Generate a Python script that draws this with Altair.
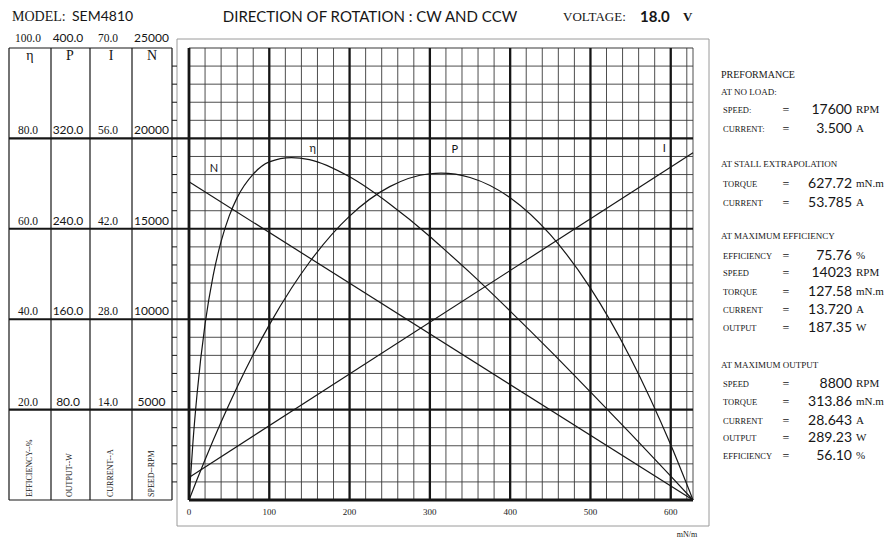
import altair as alt
import pandas as pd

# ---------------- values ----------------
model_label = "MODEL:"
model_name = "SEM4810"
rotation_text = "DIRECTION OF ROTATION : CW AND CCW"
voltage_label = "VOLTAGE:"
voltage_value = "18.0"
voltage_unit = "V"
torque_unit = "mN/m"

# straight characteristics (end points)
line_torque = [0.0, 627.72]      # mN.m
line_speed = [17600.0, 0.0]      # RPM
line_current = [3.5, 53.785]     # A

# curved characteristics
curve_torque = [0, 5, 10, 20, 30, 40, 50, 60, 80, 100, 127.58, 150, 200,
                250, 300, 313.86, 350, 400, 450, 500, 550, 600, 627.72]
curve_eff = [0, 13.0, 23.4, 38.9, 49.6, 57.2, 62.8, 66.9, 72.1, 74.8, 75.76, 75.3, 71.5,
             65.5, 58.3, 56.1, 50.3, 41.8, 33.0, 23.9, 14.7, 5.3, 0]
curve_out = [0, 9.1, 18.1, 35.7, 52.7, 69.0, 84.8, 100.0, 128.7, 155.0, 187.35, 210.4, 251.2,
             277.3, 288.7, 289.23, 285.4, 267.5, 234.8, 187.5, 125.5, 48.8, 0]

# full-scale values of the four stacked scales
eff_full, out_full, cur_full, spd_full = 100.0, 400.0, 70.0, 25000.0
torque_full = 627.72

eff_ticks = [100.0, 80.0, 60.0, 40.0, 20.0]
out_ticks = [400.0, 320.0, 240.0, 160.0, 80.0]
cur_ticks = [70.0, 56.0, 42.0, 28.0, 14.0]
spd_ticks = [25000, 20000, 15000, 10000, 5000]
col_symbols = ["η", "P", "I", "N"]
col_titles = ["EFFICIENCY--%", "OUTPUT--W", "CURRENT--A", "SPEED--RPM"]
torque_ticks = [0, 100, 200, 300, 400, 500, 600]

curve_names = ["N", "η", "P", "I"]
name_torque = [31, 154, 331, 592]
name_speed = [18300, 19420, 19360, 19420]

perf_kind = ["title", "head", "row", "row", "head", "row", "row", "head", "row", "row", "row",
             "row", "row", "head", "row", "row", "row", "row", "row"]
perf_label = ["PREFORMANCE", "AT NO LOAD:", "SPEED:", "CURRENT:", "AT STALL EXTRAPOLATION",
              "TORQUE", "CURRENT", "AT MAXIMUM EFFICIENCY", "EFFICIENCY", "SPEED", "TORQUE",
              "CURRENT", "OUTPUT", "AT MAXIMUM OUTPUT", "SPEED", "TORQUE", "CURRENT", "OUTPUT",
              "EFFICIENCY"]
perf_value = ["", "", "17600", "3.500", "", "627.72", "53.785", "", "75.76", "14023", "127.58",
              "13.720", "187.35", "", "8800", "313.86", "28.643", "289.23", "56.10"]
perf_unit = ["", "", "RPM", "A", "", "mN.m", "A", "", "%", "RPM", "mN.m", "A", "W", "", "RPM",
             "mN.m", "A", "W", "%"]

# ---------------- layout (pixels, relative to the plot area) ----------------
W, H = 504, 452
PAD = {"left": 181, "top": 40, "right": 193, "bottom": 39}
SERIF = "Liberation Serif"
SANS = "Lato"
INK = "#161616"
table_edges = [-180, -138, -99, -57, -17]
table_sym_x = [-159, -119, -78, -37]
table_num_x = [-161, -121, -81, -37.5]
perf_y = [27, 44, 62, 81, 116, 136, 155, 188, 208, 225, 244, 262, 280, 317, 336, 354, 373, 390, 408]

X = alt.Scale(domain=[0, torque_full], nice=False, zero=False)
Y = alt.Scale(domain=[0, spd_full], nice=False, zero=False)


def xs(field):
    return alt.X(field, type="quantitative", scale=X, axis=None)


def ys(field):
    return alt.Y(field, type="quantitative", scale=Y, axis=None)


def px(field):
    return alt.X(field, type="quantitative", scale=None, axis=None)


def py(field):
    return alt.Y(field, type="quantitative", scale=None, axis=None)


one = pd.DataFrame({"k": [0]})
layers = []

# outer frame
layers.append(alt.Chart(one).mark_rect(fillOpacity=0, stroke="#9a9a9a", strokeWidth=1).encode(
    x=alt.value(-12), x2=alt.value(520), y=alt.value(-9), y2=alt.value(478)))

# grid
minor_t = [t for t in range(20, 640, 20) if t % 100] + [torque_full]
major_t = [100, 200, 300, 400, 500, 600]
minor_s = [s for s in range(1000, 25000, 1000) if s % 5000]
major_s = [5000, 10000, 15000, 20000]

layers.append(alt.Chart(pd.DataFrame({"t": minor_t})).mark_rule(color="#3a3a3a", strokeWidth=0.9)
              .encode(x=xs("t")))
layers.append(alt.Chart(pd.DataFrame({"s": minor_s}))
              .mark_rule(color="#3a3a3a", strokeWidth=0.9).encode(y=ys("s")))
layers.append(alt.Chart(pd.DataFrame({"s": [25000]}))
              .mark_rule(color="#3a3a3a", strokeWidth=1.2).encode(y=ys("s")))
layers.append(alt.Chart(pd.DataFrame({"t": major_t})).mark_rule(color=INK, strokeWidth=2.3)
              .encode(x=xs("t")))
layers.append(alt.Chart(pd.DataFrame({"s": major_s})).mark_rule(color=INK, strokeWidth=2.1).encode(
    y=ys("s"), x=alt.value(-180), x2=alt.value(W)))
layers.append(alt.Chart(pd.DataFrame({"t": [0]})).mark_rule(color=INK, strokeWidth=2.8).encode(x=xs("t")))
layers.append(alt.Chart(pd.DataFrame({"s": [0]})).mark_rule(color=INK, strokeWidth=2.8).encode(y=ys("s")))

# torque tick labels (placed through the torque scale)
layers.append(alt.Chart(pd.DataFrame({"t": torque_ticks})).mark_text(
    font=SERIF, fontSize=9, color="#222", align="center", baseline="middle")
    .encode(x=xs("t"), y=alt.value(H + 12), text="t:Q"))

# left table frame
layers.append(alt.Chart(pd.DataFrame({"p": table_edges})).mark_rule(color=INK, strokeWidth=1.2)
              .encode(x=px("p"), y=alt.value(0), y2=alt.value(H)))
layers.append(alt.Chart(pd.DataFrame({"s": [0, 25000]})).mark_rule(color=INK, strokeWidth=1.2).encode(
    y=ys("s"), x=alt.value(-180), x2=alt.value(-17)))
layers.append(alt.Chart(pd.DataFrame({"s": minor_s}))
              .mark_rule(color=INK, strokeWidth=1).encode(y=ys("s"), x=alt.value(-17), x2=alt.value(-12)))

# table numbers
fmt1 = lambda v: f"{v:.1f}"
rows = []
for i in range(len(spd_ticks)):
    rows.append({"s": spd_ticks[i], "p": table_num_x[0], "lab": fmt1(eff_ticks[i]), "f": "serif"})
    rows.append({"s": spd_ticks[i], "p": table_num_x[1], "lab": fmt1(out_ticks[i]), "f": "sans"})
    rows.append({"s": spd_ticks[i], "p": table_num_x[2], "lab": fmt1(cur_ticks[i]), "f": "serif"})
    rows.append({"s": spd_ticks[i], "p": table_num_x[3], "lab": str(spd_ticks[i]), "f": "sans"})
tab = pd.DataFrame(rows)
for fam, font, size in [("serif", SERIF, 11.5), ("sans", SANS, 12)]:
    for top, dy in [(True, -6), (False, -4)]:
        sub = tab[(tab.f == fam) & ((tab.s == 25000) == top)]
        layers.append(alt.Chart(sub).mark_text(font=font, fontSize=size, color=INK, align="center",
                                               baseline="alphabetic", dy=dy)
                      .encode(x=px("p"), y=ys("s"), text="lab:N"))

sym = pd.DataFrame({"p": table_sym_x, "lab": col_symbols, "t": col_titles})
layers.append(alt.Chart(sym).mark_text(font=SERIF, fontSize=14, color=INK, align="center",
                                       baseline="middle").encode(x=px("p"), y=alt.value(8), text="lab:N"))
layers.append(alt.Chart(sym).mark_text(font=SERIF, fontSize=8, color=INK, align="left",
                                       baseline="middle", angle=270)
              .encode(x=px("p"), y=alt.value(449), text="t:N"))

# characteristic lines
lines = pd.DataFrame({"torque": line_torque, "speed": line_speed, "current": line_current})
layers.append(alt.Chart(lines).mark_line(color=INK, strokeWidth=1.2).encode(x=xs("torque"), y=ys("speed")))
layers.append(alt.Chart(lines).transform_calculate(cur_s=f"datum.current * {spd_full / cur_full}")
              .mark_line(color=INK, strokeWidth=1.2).encode(x=xs("torque"), y=ys("cur_s")))
curves = pd.DataFrame({"torque": curve_torque, "eff": curve_eff, "out": curve_out})
layers.append(alt.Chart(curves).transform_calculate(eff_s=f"datum.eff * {spd_full / eff_full}")
              .mark_line(color=INK, strokeWidth=1.2, interpolate="monotone")
              .encode(x=xs("torque"), y=ys("eff_s")))
layers.append(alt.Chart(curves).transform_calculate(out_s=f"datum.out * {spd_full / out_full}")
              .mark_line(color=INK, strokeWidth=1.2, interpolate="monotone")
              .encode(x=xs("torque"), y=ys("out_s")))
names = pd.DataFrame({"t": name_torque, "s": name_speed, "lab": curve_names})
layers.append(alt.Chart(names).mark_text(font=SANS, fontSize=11, color=INK, align="center",
                                         baseline="middle").encode(x=xs("t"), y=ys("s"), text="lab:N"))

# headings
def fixed_text(txt, x, y, font, size, align="left", weight="normal"):
    return alt.Chart(one).mark_text(font=font, fontSize=size, color=INK, align=align,
                                    baseline="middle", fontWeight=weight).encode(
        x=alt.value(x), y=alt.value(y), text=alt.value(txt))


layers.append(fixed_text(model_label, -177, -31, SERIF, 14))
layers.append(fixed_text(model_name, -117, -31, SANS, 14))
layers.append(fixed_text(rotation_text, 181, -31, SANS, 15, align="center"))
layers.append(fixed_text(voltage_label, 374, -31, SERIF, 13))
layers.append(fixed_text(voltage_value, 451, -31, SANS, 15, weight="bold"))
layers.append(fixed_text(voltage_unit, 494, -31, SERIF, 13, weight="bold"))
layers.append(fixed_text(torque_unit, 498, 487, SERIF, 8, align="center"))

# performance panel
perf = pd.DataFrame({"kind": perf_kind, "label": perf_label, "value": perf_value,
                     "unit": perf_unit, "py": perf_y})
prow = perf[perf.kind == "row"]
layers.append(alt.Chart(perf[perf.kind == "title"]).mark_text(font=SERIF, fontSize=10, color=INK,
                                                              align="left", baseline="middle")
              .encode(x=alt.value(532), y=py("py"), text="label:N"))
layers.append(alt.Chart(perf[perf.kind == "head"]).mark_text(font=SERIF, fontSize=9, color=INK,
                                                             align="left", baseline="middle")
              .encode(x=alt.value(532), y=py("py"), text="label:N"))
layers.append(alt.Chart(prow).mark_text(font=SERIF, fontSize=8.5, color=INK, align="left",
                                        baseline="middle")
              .encode(x=alt.value(534), y=py("py"), text="label:N"))
layers.append(alt.Chart(prow).mark_text(font=SERIF, fontSize=12, color=INK, align="center",
                                        baseline="middle")
              .encode(x=alt.value(597), y=py("py"), text=alt.value("=")))
layers.append(alt.Chart(prow).mark_text(font=SANS, fontSize=14, color=INK, align="right",
                                        baseline="middle")
              .encode(x=alt.value(663), y=py("py"), text="value:N"))
layers.append(alt.Chart(prow).mark_text(font=SERIF, fontSize=11, color=INK, align="left",
                                        baseline="middle")
              .encode(x=alt.value(667), y=py("py"), text="unit:N"))

chart = alt.layer(*layers).properties(
    width=W, height=H, padding=PAD, autosize=alt.AutoSizeParams(type="none"),
    background="white",
).configure_view(stroke="transparent")

chart.save("out.html", embed_options={"renderer": "svg", "actions": False})
